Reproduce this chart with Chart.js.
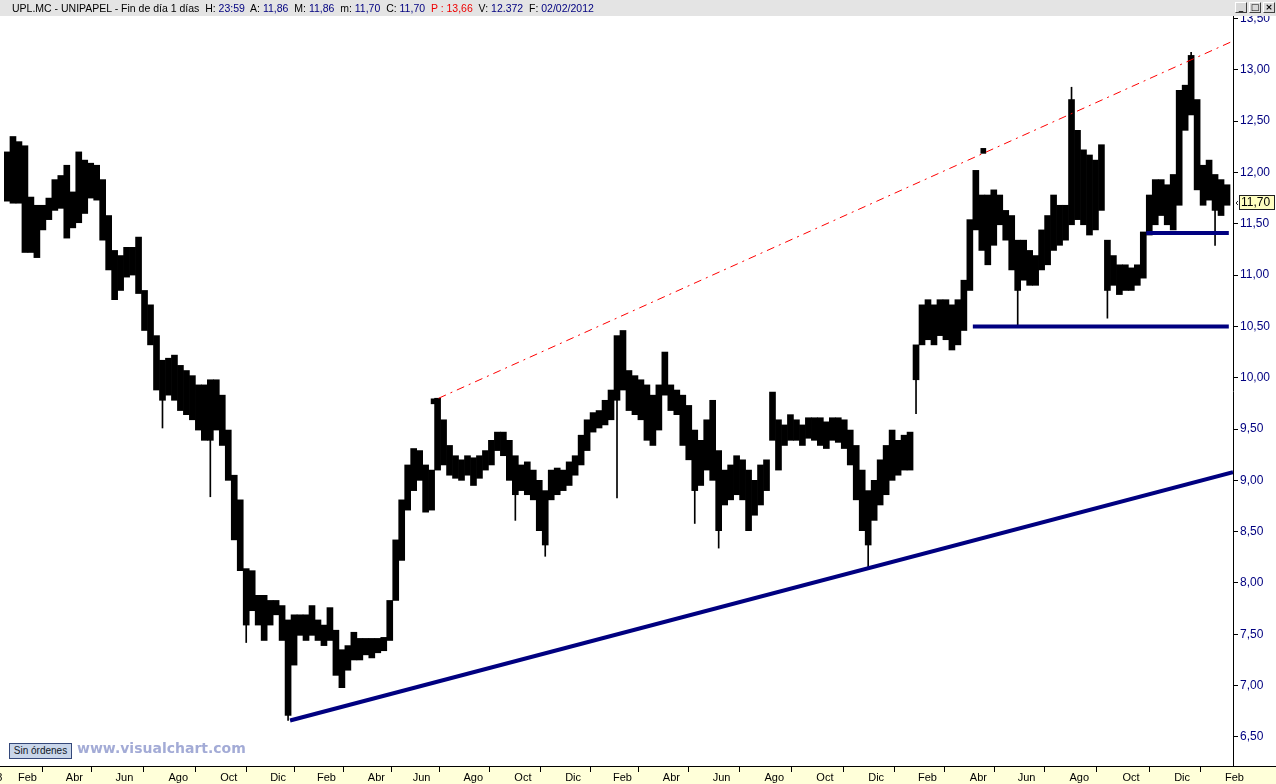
<!DOCTYPE html>
<html lang="es">
<head>
<meta charset="utf-8">
<title>UPL.MC - UNIPAPEL</title>
<script src="https://cdn.jsdelivr.net/npm/chart.js@4.4.1/dist/chart.umd.min.js"></script>
<style>
  html, body { margin: 0; padding: 0; background: #fff; }
  #marco { position: relative; width: 1276px; height: 784px; overflow: hidden; font-family: 'Liberation Sans', Arial, sans-serif; }
  #grafico { position: absolute; left: 0; top: 0; }
  #cab { position: absolute; left: 0; top: 0; width: 1276px; height: 16px; background: #e4e4e4; font-size: 10.5px; line-height: 16px; white-space: pre; color: #000; }
  #cab .t { position: absolute; left: 12px; top: 0; }
  .v { color: #000080; }
  .r { color: #ee0000; }
  #botones { position: absolute; left: 1235px; top: 2px; height: 12px; }
  #botones span { display: inline-block; width: 10px; height: 9px; margin-right: 2px; border: 1px solid; border-color: #fff #404040 #404040 #fff;
                  background: #d8d8d8; font: bold 9px/9px 'DejaVu Sans', sans-serif; text-align: center; vertical-align: top; }
  #ordenes { position: absolute; left: 9px; top: 743px; width: 61px; height: 14px; border: 1px solid #34487a; background: #c9d6ea;
             font-size: 10px; line-height: 14px; text-align: center; color: #101828; }
  #marca { position: absolute; left: 77px; top: 740px; font: bold 14px 'DejaVu Sans', Verdana, sans-serif; color: #a3abd6; }
</style>
</head>
<body>
<div id="marco">
  <canvas id="grafico" width="1276" height="784"></canvas>
  <div id="cab"><span class="t">UPL.MC - UNIPAPEL - Fin de día 1 días  H: <span class="v">23:59</span>  A: <span class="v">11,86</span>  M: <span class="v">11,86</span>  m: <span class="v">11,70</span>  C: <span class="v">11,70</span>  <span class="r">P : 13,66</span>  V: <span class="v">12.372</span>  F: <span class="v">02/02/2012</span></span>
    <div id="botones"><span>_</span><span>□</span><span>×</span></div>
  </div>
  <div id="ordenes">Sin órdenes</div>
  <div id="marca">www.visualchart.com</div>
</div>
<script>
'use strict';

/* datos: un rango (mínimo–máximo) por semana, ene 2008 – feb 2012 */
const maximos = [
  12.20, 12.35, 12.30, 12.26, 11.76, 11.68, 11.68, 11.75, 11.93, 11.97, 12.07, 11.81, 12.20, 12.12, 12.09, 12.07, 11.93, 11.58, 11.24, 11.19,
  11.27, 11.27, 11.37, 10.85, 10.71, 10.41, 10.17, 10.19, 10.22, 10.12, 10.07, 10.02, 9.93, 9.93, 9.98, 9.98, 9.83, 9.49, 9.05, 8.81,
  8.14, 8.12, 7.88, 7.88, 7.83, 7.83, 7.78, 7.64, 7.69, 7.69, 7.69, 7.78, 7.64, 7.59, 7.76, 7.54, 7.35, 7.39, 7.52, 7.46,
  7.46, 7.46, 7.46, 7.47, 7.83, 8.42, 8.81, 9.15, 9.31, 9.29, 9.15, 9.10, 9.80, 9.59, 9.34, 9.24, 9.20, 9.24, 9.22, 9.24,
  9.29, 9.39, 9.47, 9.47, 9.39, 9.24, 9.15, 9.18, 9.10, 9.00, 8.90, 9.10, 9.12, 9.10, 9.18, 9.24, 9.44, 9.59, 9.66, 9.68,
  9.78, 9.88, 10.41, 10.46, 10.07, 10.02, 9.98, 9.93, 9.83, 9.93, 10.25, 9.93, 9.88, 9.83, 9.73, 9.49, 9.39, 9.59, 9.78, 9.29,
  9.10, 9.15, 9.24, 9.20, 9.10, 9.00, 9.15, 9.20, 9.86, 9.59, 9.54, 9.64, 9.59, 9.54, 9.61, 9.61, 9.61, 9.57, 9.61, 9.61,
  9.59, 9.49, 9.34, 9.10, 8.90, 9.00, 9.20, 9.34, 9.49, 9.39, 9.44, 9.47, 10.32, 10.71, 10.76, 10.71, 10.76, 10.76, 10.71, 10.76,
  10.95, 11.54, 12.02, 11.78, 11.78, 11.83, 11.78, 11.63, 11.58, 11.34, 11.34, 11.24, 11.19, 11.44, 11.58, 11.78, 11.68, 11.68, 12.71, 12.41,
  12.22, 12.17, 12.12, 12.27, 11.34, 11.19, 11.10, 11.10, 11.07, 11.10, 11.42, 11.78, 11.93, 11.93, 11.88, 11.98, 12.80, 12.85, 13.14, 12.71,
  12.07, 12.12, 11.98, 11.93, 11.88
];
const minimos = [
  11.72, 11.70, 11.70, 11.22, 11.22, 11.17, 11.44, 11.54, 11.63, 11.65, 11.36, 11.46, 11.51, 11.60, 11.75, 11.73, 11.34, 11.05, 10.76, 10.85,
  10.98, 11.00, 10.82, 10.46, 10.32, 9.88, 9.78, 9.83, 9.78, 9.68, 9.64, 9.59, 9.49, 9.39, 9.39, 9.49, 9.34, 9.00, 8.42, 8.12,
  7.59, 7.73, 7.59, 7.44, 7.59, 7.69, 7.44, 6.71, 7.20, 7.49, 7.44, 7.49, 7.44, 7.39, 7.44, 7.10, 6.98, 7.15, 7.25, 7.25,
  7.30, 7.27, 7.32, 7.34, 7.44, 7.83, 8.22, 8.71, 8.90, 9.00, 8.69, 8.71, 9.10, 9.15, 9.05, 9.02, 9.00, 9.05, 8.95, 9.02,
  9.10, 9.15, 9.29, 9.24, 9.00, 8.86, 8.90, 8.86, 8.81, 8.51, 8.37, 8.81, 8.86, 8.90, 8.95, 9.05, 9.15, 9.29, 9.47, 9.51,
  9.54, 9.59, 9.78, 9.88, 9.68, 9.64, 9.59, 9.39, 9.34, 9.49, 9.83, 9.68, 9.64, 9.34, 9.20, 8.90, 8.95, 9.10, 9.00, 8.51,
  8.76, 8.81, 8.86, 8.81, 8.51, 8.66, 8.76, 8.90, 9.39, 9.10, 9.34, 9.39, 9.39, 9.34, 9.41, 9.39, 9.34, 9.31, 9.39, 9.37,
  9.31, 9.15, 8.81, 8.51, 8.37, 8.61, 8.76, 8.86, 9.00, 9.05, 9.10, 9.10, 9.98, 10.32, 10.37, 10.32, 10.41, 10.37, 10.27, 10.32,
  10.46, 10.85, 11.44, 11.24, 11.10, 11.29, 11.49, 11.34, 11.05, 10.85, 10.95, 10.90, 10.90, 11.05, 11.10, 11.24, 11.29, 11.34, 11.49, 11.54,
  11.49, 11.39, 11.44, 11.63, 10.85, 10.90, 10.81, 10.85, 10.85, 10.90, 10.97, 11.39, 11.49, 11.58, 11.49, 11.44, 11.68, 12.41, 12.56, 11.83,
  11.68, 11.73, 11.63, 11.58, 11.68
];
/* mechas largas sueltas: [semana, mínimo, máximo] */
const mechas = [
  [26, 9.51, 10.10], [34, 8.84, 9.90], [40, 7.42, 8.10], [47, 6.66, 7.40], [85, 8.61, 9.10], [90, 8.26, 8.80],
  [102, 8.83, 9.90], [115, 8.58, 9.20], [119, 8.34, 8.90], [144, 8.14, 8.60], [152, 9.65, 10.10], [169, 10.50, 11.00],
  [178, 12.60, 12.83], [184, 10.58, 11.00], [198, 13.00, 13.17], [202, 11.29, 11.70]
];
/* líneas dibujadas sobre el gráfico: [semana, precio] */
const soporte = [[47.83, 6.66], [205.5, 9.08]];
const resistencia = [[72.67, 9.80], [205.5, 13.28]];
const nivel1050 = [[162.0, 10.50], [204.8, 10.50]];
const nivel1140 = [[191.0, 11.41], [204.8, 11.41]];
const marcas = [[71.83, 9.77], [163.75, 12.21]];
const cierre = 11.70;

/* ejes */
const mesesTxt = ['2008', 'Feb', 'Abr', 'Jun', 'Ago', 'Oct', 'Dic', 'Feb', 'Abr', 'Jun', 'Ago', 'Oct', 'Dic',
                  'Feb', 'Abr', 'Jun', 'Ago', 'Oct', 'Dic', 'Feb', 'Abr', 'Jun', 'Ago', 'Oct', 'Dic', 'Feb'];
const mesesPos = [-4.2, 2.5, 10.5, 18.83, 27.67, 36.33, 44.67, 52.5, 61.0, 68.5, 77.0, 85.5, 94.0,
                  102.0, 110.33, 118.67, 127.33, 136.0, 144.67, 153.0, 161.67, 169.67, 178.33, 187.17, 195.83, 204.33];
const precios = [6.5, 7, 7.5, 8, 8.5, 9, 9.5, 10, 10.5, 11, 11.5, 12, 12.5, 13, 13.5];

const fmt = v => v.toFixed(2).replace('.', ',');
const xy = arr => arr.map(([x, y]) => ({ x, y }));
const NEGRO = '#000', AZUL = '#000080', ROJO = '#ff0000';
const FUENTE = "'Liberation Sans', Arial, sans-serif";

Chart.defaults.font.family = FUENTE;
Chart.defaults.font.size = 11;
Chart.defaults.color = NEGRO;

const linea = (data, color, ancho, extra = {}) => ({ type: 'line', data: xy(data), borderColor: color, borderWidth: ancho,
  pointRadius: 0, tension: 0, borderCapStyle: 'butt', order: 0, ...extra });

/* fondo amarillo del eje de fechas, línea base y etiqueta del último cierre */
const marco = {
  id: 'marco',
  beforeDraw(c) {
    const { ctx, width, height, chartArea: a } = c;
    ctx.save();
    ctx.fillStyle = '#fff'; ctx.fillRect(0, 0, width, height);
    ctx.fillStyle = '#ffffd9'; ctx.fillRect(0, a.bottom, width, height - a.bottom);
    ctx.restore();
  },
  afterDraw(c) {
    const { ctx, width, chartArea: a, scales: { y } } = c;
    ctx.save();
    ctx.strokeStyle = NEGRO; ctx.lineWidth = 1;
    ctx.beginPath(); ctx.moveTo(0, a.bottom + 0.5); ctx.lineTo(width, a.bottom + 0.5); ctx.stroke();
    const py = Math.round(y.getPixelForValue(cierre));
    ctx.fillStyle = '#ffffc0'; ctx.fillRect(a.right + 6, py - 8, 36, 15);
    ctx.strokeStyle = '#202020'; ctx.strokeRect(a.right + 6.5, py - 7.5, 35, 14);
    ctx.fillStyle = NEGRO; ctx.font = '12px ' + FUENTE; ctx.textBaseline = 'middle';
    ctx.fillText(fmt(cierre), a.right + 8, py);
    ctx.beginPath(); ctx.moveTo(a.right + 5, py - 2); ctx.lineTo(a.right + 3, py); ctx.lineTo(a.right + 5, py + 2); ctx.stroke();
    ctx.restore();
  },
};

new Chart(document.getElementById('grafico'), {
  type: 'bar',
  data: {
    datasets: [
      linea(nivel1050, AZUL, 4),
      linea(nivel1140, AZUL, 4),
      linea(soporte, AZUL, 4),
      linea(resistencia, ROJO, 1, { borderDash: [8, 5, 2, 5] }),
      { type: 'line', data: xy(marcas), showLine: false, pointStyle: 'rect', pointRadius: 4, backgroundColor: NEGRO, borderWidth: 0, order: 0 },
      { type: 'bar', data: mechas.map(([s, lo, hi]) => ({ x: s + 0.5, y: [lo, hi] })), backgroundColor: NEGRO, barThickness: 1, grouped: false, order: 2 },
      { type: 'bar', data: maximos.map((hi, i) => ({ x: i + 0.5, y: [minimos[i], hi] })), backgroundColor: NEGRO, barThickness: 6, grouped: false, order: 3 },
    ],
  },
  options: {
    responsive: false, animation: false, devicePixelRatio: 1,
    layout: { padding: { top: 16, left: 0, right: 0, bottom: 0 } },
    plugins: { legend: { display: false }, tooltip: { enabled: false } },
    scales: {
      x: {
        type: 'linear', min: 0, max: 205.5, offset: false,
        afterBuildTicks: s => { s.ticks = mesesPos.map(v => ({ value: v })); },
        afterFit: s => { s.height = 18; s.paddingLeft = 0; s.paddingRight = 0; },
        ticks: { autoSkip: false, maxRotation: 0, align: 'start', labelOffset: -1, padding: -1, color: NEGRO,
                 font: { size: 11 }, callback: (v, i) => mesesTxt[i] },
        grid: { drawOnChartArea: false, drawTicks: true, tickLength: 6, color: NEGRO },
        border: { display: true, color: NEGRO },
      },
      y: {
        position: 'right', min: 6.217, max: 13.524,
        afterBuildTicks: s => { s.ticks = precios.map(v => ({ value: v })); },
        afterFit: s => { s.width = 43; s.paddingTop = 0; s.paddingBottom = 0; },
        ticks: { color: AZUL, padding: 2, font: { size: 12 }, callback: v => fmt(v) },
        grid: { drawOnChartArea: false, drawTicks: true, tickLength: 5, color: NEGRO },
        border: { display: true, color: NEGRO },
      },
    },
  },
  plugins: [marco],
});
</script>
</body>
</html>
